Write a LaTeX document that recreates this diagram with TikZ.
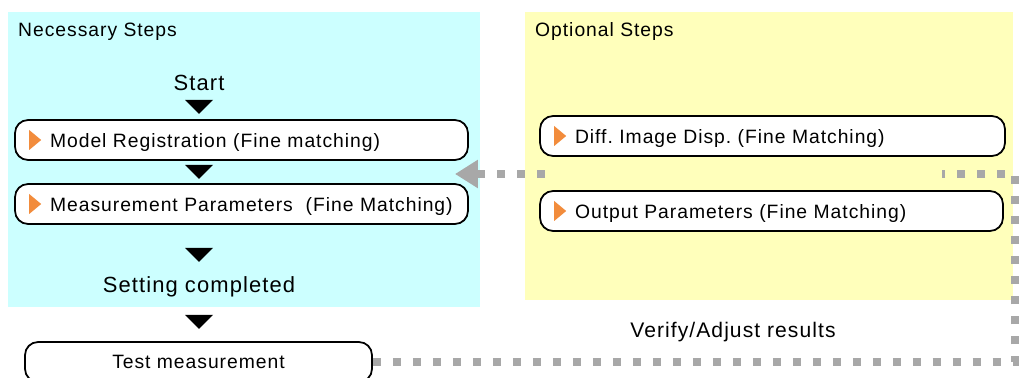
\documentclass[tikz,border=0pt]{standalone}
\usepackage{fontspec}
\setmainfont{Liberation Sans}[LetterSpace=5]
\usetikzlibrary{arrows.meta}
\definecolor{needfill}{HTML}{CCFFFF}
\definecolor{optfill}{HTML}{FFFFBB}
\definecolor{markorange}{HTML}{F28C3C}
\definecolor{loopgray}{HTML}{A8A8A8}
\newcommand{\downmark}[1]{\fill[black] (185,#1) -- (213,#1) -- (199,#1+14) -- cycle;}
\newcommand{\stepmark}[1]{\fill[markorange] (#1.west) ++(15,-10) -- ++(0,20) -- ++(12,-10) -- cycle;}
\frenchspacing

\begin{document}
\begin{tikzpicture}[x=0.02cm, y=-0.02cm,
  every node/.style={font=\fontsize{11pt}{13pt}\selectfont},
  panel/.style={inner sep=0pt, anchor=north west},
  stepbox/.style={draw=black, line width=1pt, fill=white, rounded corners=0.26cm,
    minimum height=0.8cm, inner xsep=0.2cm, align=left, text width=#1,
    text height=9.1pt, text depth=0pt,
    execute at begin node={\hspace*{0.5cm}}},
  loopline/.style={draw=loopgray, line width=4.5pt, dash pattern=on 0.16cm off 0.24cm}]

  \useasboundingbox (0,0) rectangle (1019,378);

  %% Panels
  \node[panel, fill=needfill, minimum width=9.44cm, minimum height=5.9cm] (necessary) at (8,12) {};
  \node[panel, fill=optfill, minimum width=9.76cm, minimum height=5.76cm] (optional) at (525,12) {};
  \node[anchor=west] (necttl) at (12,32) {Necessary Steps};
  \node[anchor=west] (optttl) at (529,32) {Optional Steps};

  %% Necessary steps
  \node[font=\fontsize{12.5pt}{15pt}\selectfont] (start) at (199,83) {Start};
  \node[stepbox=8.66cm] (model) at (241.5,140) {Model Registration (Fine matching)};
  \node[stepbox=8.66cm] (meas) at (241.5,204) {Measurement Parameters~ (Fine Matching)};
  \node[font=\fontsize{12.5pt}{15pt}\selectfont] (done) at (199,287) {Setting completed};
  \node[draw=black, line width=1pt, fill=white, rounded corners=0.26cm,
    minimum width=6.94cm, minimum height=0.8cm] (test) at (198.5,362) {Test measurement};
  \downmark{100}
  \downmark{165}
  \downmark{248}
  \downmark{315}

  %% Optional steps
  \node[stepbox=8.9cm] (diff) at (772.5,136) {Diff. Image Disp. (Fine Matching)};
  \node[stepbox=8.86cm] (out) at (771.5,211) {Output Parameters (Fine Matching)};
  \foreach \n in {model,meas,diff,out}{
    \stepmark{\n}
  }

  %% Feedback loop
  \node[font=\fontsize{12pt}{14pt}\selectfont] (verify) at (733,332) {Verify/Adjust results};
  \coordinate (loopend) at (942,174);
  \coordinate (loopstart) at (545,174);
  \coordinate (looptip) at (455,174);
  \draw[loopline] (test.east) -- (1015,362) -- (1015,174) -- (loopend);
  \draw[loopline, -{Triangle[length=0.46cm, width=0.54cm]}] (loopstart) -- (looptip);

\end{tikzpicture}
\end{document}
